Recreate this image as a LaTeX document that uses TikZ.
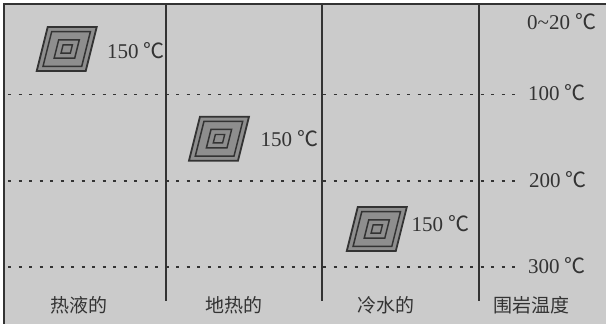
\documentclass[tikz,border=0pt]{standalone}
\usepackage{fontspec}
\setmainfont{Liberation Serif}
\newfontfamily\cjk{Noto Sans CJK SC}
\definecolor{bg}{HTML}{CBCBCB}
\definecolor{ink}{HTML}{333333}
\definecolor{pfill}{HTML}{8E8E8E}
\begin{document}
\begin{tikzpicture}[x=1pt,y=-1pt,
  frame/.style={ink, line width=2pt},
  sep/.style={ink, line width=1.8pt},
  dotline/.style={ink, line width=1.4pt, dash pattern=on 3pt off 7.5pt},
  temp/.style={font=\fontsize{21}{21}\selectfont, inner sep=0pt, anchor=base west, text=ink},
  lab/.style={font=\cjk\fontsize{19}{19}\selectfont, inner sep=0pt, text=ink},
  pgram/.pic={
    \foreach \s/\w in {1/1.8pt,0.79/1.5pt,0.42/1.5pt,0.19/1.4pt}{
      \filldraw[fill=pfill, draw=ink, line width=\w, scale=\s]
        (-19,-22) -- (30,-22) -- (19,22) -- (-30,22) -- cycle;
    }
  }]
\useasboundingbox (0,0) rectangle (606,324);
\fill[white] (0,0) rectangle (606,324);
\fill[bg] (3,3) rectangle (606,324);
\coordinate (tr) at (606,3.5);
\coordinate (tl) at (3.5,3.5);
\coordinate (bl) at (3.5,324);
\draw[frame] (tr) -- (tl) -- (bl);
% dotted depth lines
\coordinate (d1l) at (8,94.5);  \coordinate (d1r) at (516,94.5);
\coordinate (d2l) at (8,181);   \coordinate (d2r) at (516,181);
\coordinate (d3l) at (8,267);   \coordinate (d3r) at (516,267);
\draw[dotline] (d1l) -- (d1r);
\draw[dotline] (d2l) -- (d2r);
\draw[dotline] (d3l) -- (d3r);
% column separators
\coordinate (v1t) at (166,3); \coordinate (v1b) at (166,301);
\coordinate (v2t) at (322,3); \coordinate (v2b) at (322,301);
\coordinate (v3t) at (479,3); \coordinate (v3b) at (479,301);
\draw[sep] (v1t) -- (v1b);
\draw[sep] (v2t) -- (v2b);
\draw[sep] (v3t) -- (v3b);
% alteration bodies
\pic (p1) at (66.7,49) {pgram};
\pic (p2) at (219,138.7) {pgram};
\pic (p3) at (376.8,229) {pgram};
\node[temp] (l1) at (107,58.3) {150 {\cjk ℃}};
\node[temp] (l2) at (260.5,146.7) {150 {\cjk ℃}};
\node[temp] (l3) at (411.5,231.7) {150 {\cjk ℃}};
% wall-rock temperatures
\node[temp] (t0) at (527,30) {0\raisebox{1pt}{\char`\~}20 {\cjk ℃}};
\node[temp] (t1) at (528,100) {100 {\cjk ℃}};
\node[temp] (t2) at (529,187.5) {200 {\cjk ℃}};
\node[temp] (t3) at (528,273) {300 {\cjk ℃}};
% column titles
\node[lab] (c1) at (79,305) {热液的};
\node[lab] (c2) at (234,305) {地热的};
\node[lab] (c3) at (386,305) {冷水的};
\node[lab] (c4) at (531,305) {围岩温度};
\end{tikzpicture}
\end{document}
